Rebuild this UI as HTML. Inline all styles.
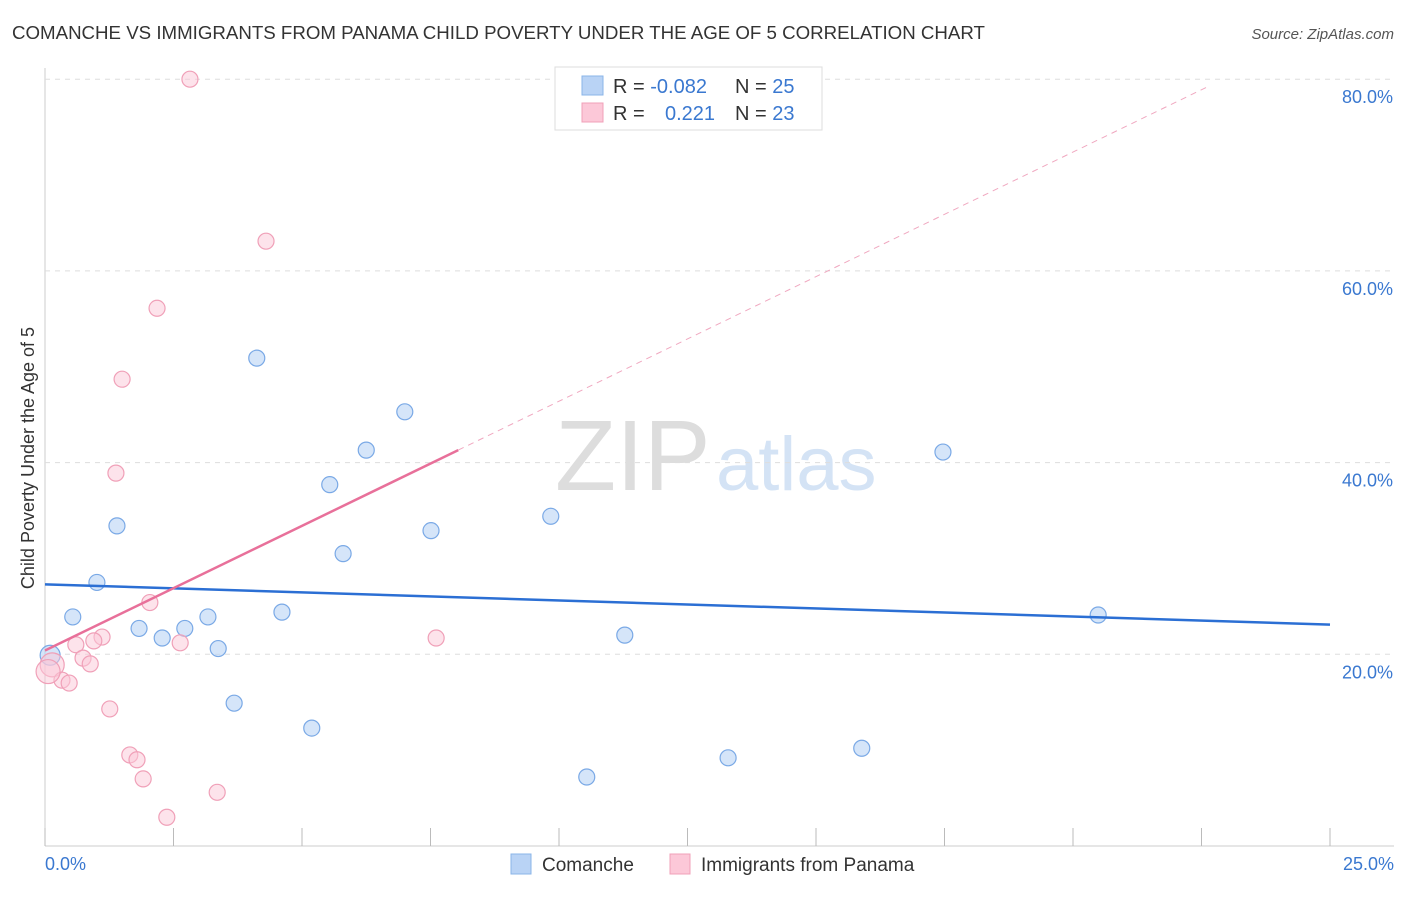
<!DOCTYPE html>
<html><head><meta charset="utf-8"><style>
body{margin:0;background:#fff;font-family:"Liberation Sans",sans-serif;}
svg text{font-family:"Liberation Sans",sans-serif;}
</style></head><body>
<svg id="chart" width="1406" height="892">
<text x="12" y="39" font-size="18.7" fill="#333">COMANCHE VS IMMIGRANTS FROM PANAMA CHILD POVERTY UNDER THE AGE OF 5 CORRELATION CHART</text>
<text x="1394" y="39" font-size="15" fill="#555" font-style="italic" text-anchor="end">Source: ZipAtlas.com</text>
<text x="555" y="490" font-size="100" fill="#ddd" font-family="Liberation Serif">ZIP</text>
<text x="716" y="490" font-size="76" fill="#d4e3f5">atlas</text>
<text transform="translate(34,458) rotate(-90)" font-size="18" fill="#333" text-anchor="middle">Child Poverty Under the Age of 5</text>
<g id="grid"></g><g id="marks"></g>
<g>
<rect x="555" y="67" width="267" height="63" fill="#fff" stroke="#ddd"/>
<rect x="582" y="76" width="21" height="19" fill="#b9d3f5" stroke="#8ab4e8"/>
<rect x="582" y="103" width="21" height="19" fill="#fcc8d8" stroke="#f0a0b8"/>
<text x="613" y="93" font-size="20" fill="#333">R = <tspan fill="#3a78d0">-0.082</tspan><tspan x="735">N = </tspan><tspan fill="#3a78d0">25</tspan></text>
<text x="613" y="120" font-size="20" fill="#333">R = <tspan x="665" fill="#3a78d0">0.221</tspan><tspan x="735">N = </tspan><tspan fill="#3a78d0">23</tspan></text>
</g>
<g>
<rect x="511" y="854" width="20" height="20" fill="#b9d3f5" stroke="#8ab4e8"/>
<text x="542" y="871" font-size="19" fill="#333">Comanche</text>
<rect x="670" y="854" width="20" height="20" fill="#fcc8d8" stroke="#f0a0b8"/>
<text x="701" y="871" font-size="19" fill="#333">Immigrants from Panama</text>
</g>
<text x="45" y="870" font-size="18" fill="#3a78d0">0.0%</text>
<text x="1394" y="870" font-size="18" fill="#3a78d0" text-anchor="end">25.0%</text>
</svg>
<script>
const yTicks=[20,40,60,80];
const xTicks=[0,2.5,5,7.5,10,12.5,15,17.5,20,22.5,25];
const comX=[0.1,0.54,1.01,1.4,1.83,2.28,2.72,3.17,3.37,3.68,4.12,4.61,5.19,5.54,5.8,6.25,7.0,7.51,9.84,10.54,11.28,13.29,15.89,17.47,20.49];
const comY=[19.9,23.9,27.5,33.4,22.7,21.7,22.7,23.9,20.6,14.9,50.9,24.4,12.3,37.7,30.5,41.3,45.3,32.9,34.4,7.2,22.0,9.2,10.2,41.1,24.1];
const panX=[2.82,4.3,2.18,1.5,1.38,2.04,1.11,0.6,0.74,0.88,2.63,7.61,0.14,0.33,0.47,1.26,1.65,1.79,1.91,3.35,2.37,0.06,0.95];
const panY=[80.0,63.1,56.1,48.7,38.9,25.4,21.8,21.0,19.6,19.0,21.2,21.7,18.9,17.3,17.0,14.3,9.5,9.0,7.0,5.6,3.0,18.2,21.4];
const comLine=[27.3,23.1];
const panLine=[20.4,2.6];
const X=v=>45+v*(1285/25), Y=v=>846-v*9.585;
const NS='http://www.w3.org/2000/svg';
const grid=document.getElementById('grid'), marks=document.getElementById('marks');
function mk(p,tag,a){const e=document.createElementNS(NS,tag);for(const k in a)e.setAttribute(k,a[k]);p.appendChild(e);return e;}
const ax=mk(grid,'line',{x1:45,y1:68,x2:45,y2:846,stroke:'#ccc'});


const bx=mk(grid,'line',{x1:45,y1:846,x2:1394,y2:846,stroke:'#ccc'});


yTicks.forEach(t=>{
 const g=mk(grid,'line',{x1:45,x2:1394,y1:Y(t),y2:Y(t),stroke:'#ddd','stroke-dasharray':'5,5'});
 
 
 const l=mk(grid,'text',{x:1393,y:Y(t)+24,'font-size':18,fill:'#3a78d0','text-anchor':'end'});
 l.textContent=t.toFixed(1)+'%';
 
 
});
xTicks.forEach(t=>{
 const k=mk(grid,'line',{x1:X(t),x2:X(t),y1:828,y2:846,stroke:'#bbb'});
 
 
});
comX.forEach((x,i)=>{
 const c=mk(marks,'circle',{cx:X(x),cy:Y(comY[i]),r:i==0?10:8,fill:'rgba(185,211,245,0.6)',stroke:'#7aa9e6','stroke-width':1.2});
 
 
});
panX.forEach((x,i)=>{
 const c=mk(marks,'circle',{cx:X(x),cy:Y(panY[i]),r:(i==12||i==21)?12:8,fill:'rgba(252,200,216,0.5)',stroke:'#f0a0b8','stroke-width':1.2});
 
 
});
const l1=mk(marks,'line',{x1:X(0),y1:Y(comLine[0]),x2:X(25),y2:Y(comLine[1]),stroke:'#2b6fd4','stroke-width':2.5});


const l2=mk(marks,'line',{x1:X(0),y1:Y(panLine[0]),x2:X(8.04),y2:Y(panLine[0]+panLine[1]*8.04),stroke:'#e8709a','stroke-width':2.5});


const l3=mk(marks,'line',{x1:X(8.04),y1:Y(panLine[0]+panLine[1]*8.04),x2:X(22.67),y2:Y(panLine[0]+panLine[1]*22.67),stroke:'#f0a8c0','stroke-width':1,'stroke-dasharray':'6,5'});


</script>
</body></html>
